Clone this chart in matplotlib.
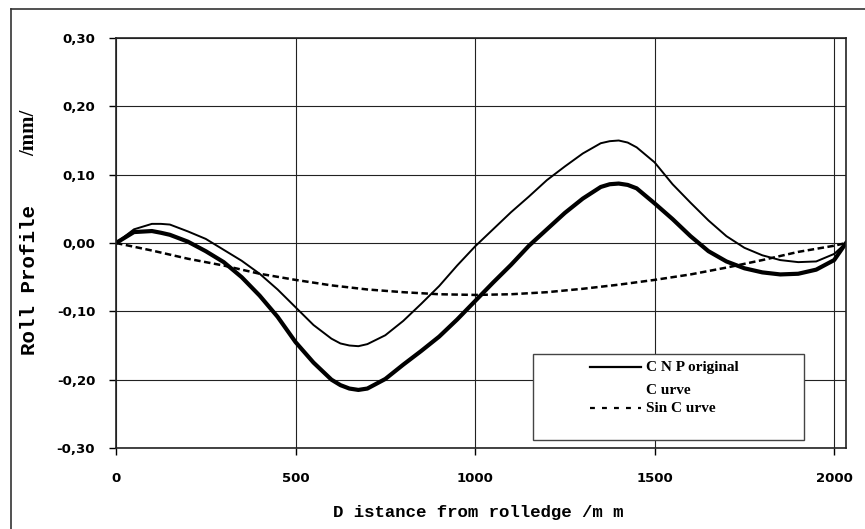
import numpy as np
import matplotlib.pyplot as plt
from matplotlib.lines import Line2D
from matplotlib.patches import Rectangle

# ------------ data ------------

dist = [0, 50, 100, 125, 150, 200, 250, 300, 350, 400, 450, 500, 550, 600,
        625, 650, 675, 700, 750, 800, 850, 900, 950, 1000, 1050, 1100, 1150,
        1200, 1250, 1300, 1350, 1375, 1400, 1425, 1450, 1500, 1550, 1600,
        1650, 1700, 1750, 1800, 1850, 1900, 1950, 2000, 2033]

thin_curve = [0.000, 0.020, 0.028, 0.028, 0.027, 0.017, 0.006, -0.010,
              -0.026, -0.045, -0.068, -0.094, -0.120, -0.140, -0.147, -0.150,
              -0.151, -0.148, -0.135, -0.114, -0.089, -0.063, -0.033, -0.005,
              0.020, 0.045, 0.068, 0.092, 0.112, 0.131, 0.146, 0.149, 0.150,
              0.147, 0.140, 0.118, 0.086, 0.059, 0.033, 0.010, -0.007, -0.018,
              -0.025, -0.028, -0.027, -0.016, 0.000]

cnp_curve = [0.000, 0.016, 0.0175, 0.015, 0.012, 0.002, -0.012, -0.028,
             -0.050, -0.077, -0.108, -0.145, -0.175, -0.200, -0.208, -0.213,
             -0.215, -0.213, -0.199, -0.178, -0.158, -0.137, -0.112, -0.085,
             -0.058, -0.032, -0.004, 0.020, 0.044, 0.065, 0.082, 0.086, 0.087,
             0.085, 0.080, 0.058, 0.035, 0.010, -0.012, -0.027, -0.037, -0.043,
             -0.046, -0.045, -0.039, -0.025, 0.000]

sin_dist = [0, 100, 200, 300, 400, 500, 600, 700, 800, 900, 1000, 1100, 1200,
            1300, 1400, 1500, 1600, 1700, 1800, 1900, 2000, 2033]
sin_curve = [0.000, -0.011, -0.023, -0.033, -0.045, -0.054, -0.062, -0.068,
             -0.072, -0.075, -0.076, -0.075, -0.072, -0.067, -0.061, -0.054,
             -0.046, -0.036, -0.025, -0.013, -0.004, 0.000]

y_ticks = [-0.3, -0.2, -0.1, 0.0, 0.1, 0.2, 0.3]
y_tick_labels = ["-0,30", "-0,20", "-0,10", "0,00", "0,10", "0,20", "0,30"]
x_ticks = [0, 500, 1000, 1500, 2000]
x_tick_labels = ["0", "500", "1000", "1500", "2000"]

# ------------ layout helpers (pixels -> figure fraction) ------------

W, H = 865, 529

def fx(px):
    return px / W

def fy(py):
    return 1 - py / H

fig = plt.figure(figsize=(W / 100, H / 100), dpi=100)
ax = fig.add_axes([fx(116), fy(448), fx(846) - fx(116), fy(38) - fy(448)])

ax.plot(dist, thin_curve, color='black', lw=1.4)
ax.plot(dist, cnp_curve, color='black', lw=3.0)
ax.plot(sin_dist, sin_curve, color='black', lw=1.8, linestyle=(0, (2.6, 1.4)))

ax.set_xlim(0, 2033)
ax.set_ylim(-0.3, 0.3)
ax.set_xticks(x_ticks, labels=x_tick_labels)
ax.set_yticks(y_ticks, labels=y_tick_labels)
ax.grid(True, color='#222222', lw=0.8)
ax.set_axisbelow(True)
for sp in ax.spines.values():
    sp.set_color('#222222')
    sp.set_linewidth(1.2)
ax.tick_params(axis='x', direction='out', length=5, width=1, pad=12)
ax.tick_params(axis='y', direction='out', length=5, width=1, pad=10)
for lab in ax.get_xticklabels() + ax.get_yticklabels():
    lab.set_fontfamily('DejaVu Sans')
    lab.set_fontweight('bold')
    lab.set_fontsize(9.5)

# axis titles
fig.text(fx(478), fy(512), "D istance from rolledge /m m", ha='center', va='center',
         family='Liberation Mono', weight='bold', fontsize=12.5)
fig.text(fx(30), fy(280), "Roll Profile", ha='center', va='center', rotation=90,
         family='Liberation Mono', weight='bold', fontsize=15)
fig.text(fx(29), fy(133), "/mm/", ha='center', va='center', rotation=90,
         family='Liberation Serif', weight='bold', fontsize=15)

# legend box
fig.add_artist(Rectangle((fx(533), fy(440)), fx(804) - fx(533), fy(354) - fy(440),
                         transform=fig.transFigure, facecolor='white',
                         edgecolor='#444444', lw=1.0, zorder=5))
fig.add_artist(Line2D([fx(590), fx(641)], [fy(367), fy(367)], transform=fig.transFigure,
                      color='black', lw=1.6, zorder=6))
fig.add_artist(Line2D([fx(590), fx(641)], [fy(408), fy(408)], transform=fig.transFigure,
                      color='black', lw=1.6, linestyle=(0, (2.2, 3.2)), zorder=6))
leg_font = dict(family='Liberation Serif', weight='bold', fontsize=11, va='center',
                ha='left', zorder=6)
fig.text(fx(646), fy(367), "C N P original", **leg_font)
fig.text(fx(646), fy(390), "C urve", **leg_font)
fig.text(fx(646), fy(408), "Sin C urve", **leg_font)

# outer frame (top and left edges only visible)
fig.add_artist(Line2D([fx(11), fx(11)], [fy(9), 0], transform=fig.transFigure,
                      color='#333333', lw=1.2))
fig.add_artist(Line2D([fx(11), 1], [fy(9), fy(9)], transform=fig.transFigure,
                      color='#333333', lw=1.2))

fig.savefig("out.png", dpi=100)
